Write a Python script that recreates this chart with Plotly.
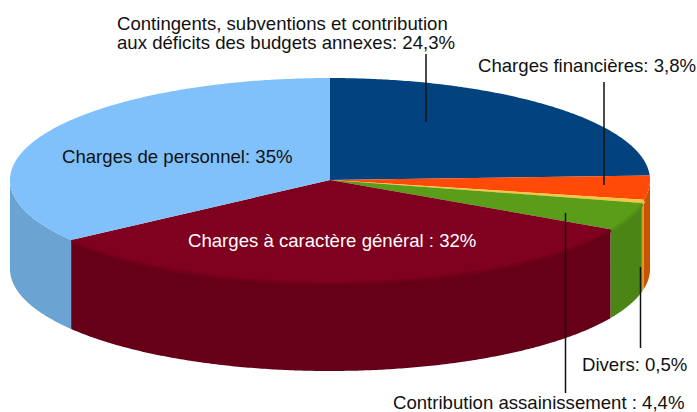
import numpy as np
import plotly.graph_objects as go

categories = ["Contingents, subventions et contribution aux déficits des budgets annexes",
              "Charges financières", "Divers", "Contribution assainissement",
              "Charges à caractère général", "Charges de personnel"]
values = [24.3, 3.8, 0.5, 4.4, 32, 35]
top_colors = ["#02437f", "#ff4a08", "#f6c63c", "#5a9d18", "#7f001f", "#80c1fb"]
side_colors = ["#02437f", "#c95400", "#c9a030", "#4a8516", "#650018", "#6ba3d3"]
rim_colors = ["#02437f", "#e44f04", "#dfb336", "#528f17", "#72001b", "#75b2e7"]

CX, CY, RX, RY, DEPTH = 330, 180, 320, 102, 89

labels = [
    ("Contingents, subventions et contribution", 116, 23, "#111111"),
    ("aux déficits des budgets annexes: 24,3%", 116, 42, "#111111"),
    ("Charges financières: 3,8%", 477, 65, "#111111"),
    ("Divers: 0,5%", 581, 364, "#111111"),
    ("Contribution assainissement : 4,4%", 392, 402, "#111111"),
    ("Charges à caractère général : 32%", 187, 240, "#ffffff"),
    ("Charges de personnel: 35%", 61, 156, "#111111"),
]
leaders = [(426, 54, 122), (604, 82, 185), (565.5, 213, 393), (640.5, 267, 348)]


def arc(a0, a1):
    t = np.radians(np.linspace(a0, a1, max(int(abs(a1 - a0) * 2), 2)))
    return CX + RX * np.sin(t), CY - RY * np.cos(t)


fig = go.Figure()
edges = np.concatenate([[0], np.cumsum(values)]) / sum(values) * 360

for i in range(len(values)):
    a0, a1 = max(edges[i], 90), min(edges[i + 1], 270)
    if a1 > a0:
        x, y = arc(a0, a1)
        fig.add_trace(go.Scatter(
            x=np.concatenate([x, x[::-1]]), y=np.concatenate([y, y[::-1] + DEPTH]),
            fill="toself", fillcolor=side_colors[i], mode="none",
            hoverinfo="skip", showlegend=False))
        # soft edge between the side and the top face, only where it is inside the silhouette
        if a0 > 90 and a1 < 270:
            fig.add_trace(go.Scatter(x=x, y=y + 1, mode="lines",
                                     line=dict(color=rim_colors[i], width=4),
                                     hoverinfo="skip", showlegend=False))

for i in range(len(values)):
    x, y = arc(edges[i], edges[i + 1])
    fig.add_trace(go.Scatter(
        x=np.concatenate([[CX], x, [CX]]), y=np.concatenate([[CY], y, [CY]]),
        fill="toself", fillcolor=top_colors[i], mode="none",
        hoverinfo="skip", showlegend=False))

for lx, y0, y1 in leaders:
    fig.add_trace(go.Scatter(x=[lx, lx], y=[y0, y1], mode="lines",
                             line=dict(color="#111111", width=1.5),
                             hoverinfo="skip", showlegend=False))

for text, x, y, col in labels:
    fig.add_annotation(x=x, y=y, text=text, showarrow=False, xanchor="left", yanchor="middle",
                       xref="x", yref="y", align="left", borderpad=0,
                       font=dict(family="Liberation Sans", size=18.6, color=col))

fig.update_layout(
    width=697, height=412, margin=dict(l=0, r=0, t=0, b=0),
    paper_bgcolor="white", plot_bgcolor="white",
    xaxis=dict(range=[0, 697], visible=False, fixedrange=True),
    yaxis=dict(range=[412, 0], visible=False, fixedrange=True),
)
fig.write_html("out.html", config=dict(displayModeBar=False),
               post_script="document.body.style.margin='0';document.body.style.overflow='hidden';")
